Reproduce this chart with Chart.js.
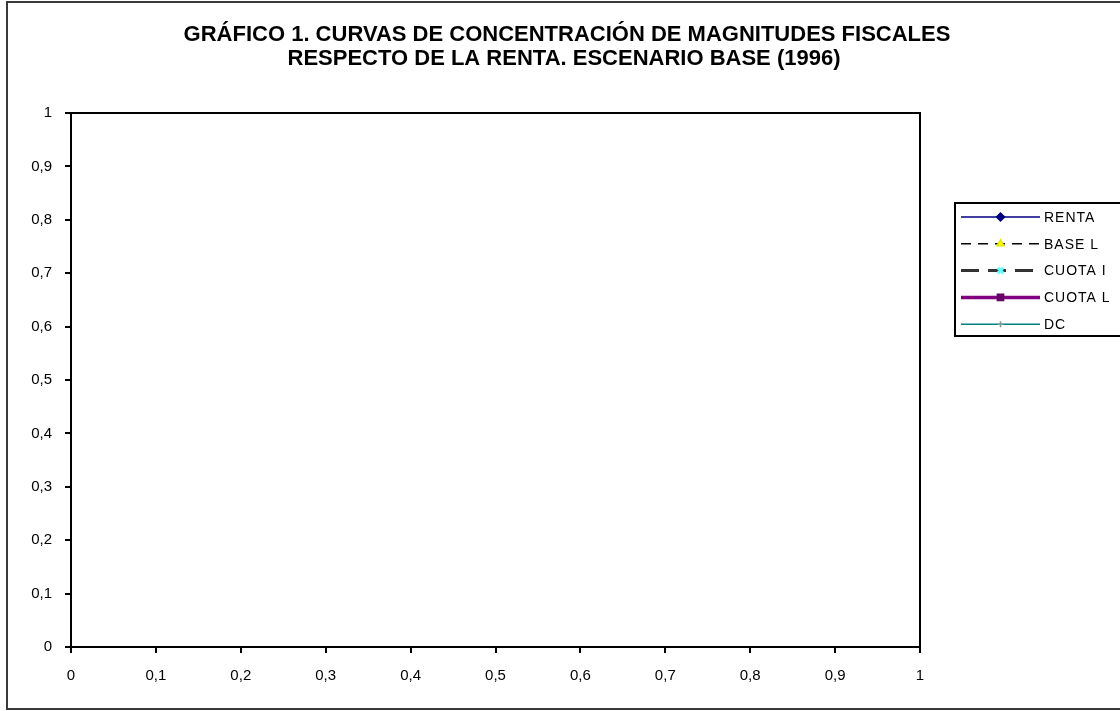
<!DOCTYPE html>
<html>
<head>
<meta charset="utf-8">
<script src="https://cdn.jsdelivr.net/npm/chart.js@4/dist/chart.umd.min.js"></script>
<style>
  html, body { margin: 0; padding: 0; background: #fff; }
  #wrap { position: relative; width: 1120px; height: 711px; }
</style>
</head>
<body>
<div id="wrap"><canvas id="myChart"></canvas></div>
<script>
const titleLines = [
    "GRÁFICO 1. CURVAS DE CONCENTRACIÓN DE MAGNITUDES FISCALES",
    "RESPECTO DE LA RENTA. ESCENARIO BASE (1996)",
];

const seriesNames = ["RENTA", "BASE L", "CUOTA I", "CUOTA L", "DC"];

// no curve is visible inside the plot of the original picture
const renta = [];
const baseL = [];
const cuotaI = [];
const cuotaL = [];
const dc = [];

const axisTicks = [0, 0.1, 0.2, 0.3, 0.4, 0.5, 0.6, 0.7, 0.8, 0.9, 1];

const tickFont = { family: "'Liberation Sans', Arial, sans-serif", size: 15 };

function fmt(v) {
    return String(Math.round(v * 10) / 10).replace(".", ",");
}

function setTicks(axis) {
    axis.ticks = axisTicks.map((v) => ({ value: v }));
}

// outer frame + white background
const frame = {
    id: "frame",
    beforeDraw(chart) {
        const ctx = chart.ctx;
        ctx.save();
        ctx.fillStyle = "#fff";
        ctx.fillRect(0, 0, chart.width, chart.height);
        ctx.strokeStyle = "#3a3a3a";
        ctx.lineWidth = 2;
        ctx.strokeRect(7, 2, chart.width + 10, chart.height - 4);
        ctx.restore();
    },
    afterDraw(chart) {
        const ctx = chart.ctx;
        const a = chart.chartArea;
        ctx.save();
        ctx.strokeStyle = "#000";
        ctx.lineWidth = 2;
        ctx.strokeRect(a.left, a.top, a.right - a.left, a.bottom - a.top);

        // title
        ctx.fillStyle = "#000";
        ctx.textAlign = "center";
        ctx.textBaseline = "middle";
        ctx.font = "bold 22px 'Liberation Sans', Arial, sans-serif";
        ctx.fillText(titleLines[0], 567, 35);
        ctx.fillText(titleLines[1], 564, 59);
        ctx.restore();
    },
};

// legend drawn like the spreadsheet one: line with marker in the middle
const legendBox = {
    id: "legendBox",
    afterDraw(chart) {
        const ctx = chart.ctx;
        const a = chart.chartArea;
        const x0 = a.right + 35;
        const y0 = 203;
        const rowH = 26.8;
        ctx.save();
        ctx.fillStyle = "#fff";
        ctx.fillRect(x0, y0, 200, 133);
        ctx.strokeStyle = "#000";
        ctx.lineWidth = 2;
        ctx.strokeRect(x0, y0, 200, 133);

        chart.data.datasets.forEach((ds, i) => {
            const y = y0 + 14 + i * rowH;
            const x1 = x0 + 6;
            const x2 = x0 + 85;
            ctx.save();
            ctx.strokeStyle = ds.borderColor;
            ctx.lineWidth = ds.borderWidth;
            ctx.setLineDash(ds.borderDash || []);
            ctx.beginPath();
            ctx.moveTo(x1, y);
            ctx.lineTo(x2, y);
            ctx.stroke();
            ctx.setLineDash([]);
            ctx.fillStyle = ds.pointBackgroundColor;
            ctx.strokeStyle = ds.pointBorderColor;
            Chart.helpers.drawPoint(ctx, {
                pointStyle: ds.pointStyle,
                radius: ds.pointRadius,
                borderWidth: ds.pointBorderWidth,
                rotation: 0,
            }, (x1 + x2) / 2, y);
            ctx.restore();

            ctx.fillStyle = "#000";
            ctx.font = "14px 'Liberation Sans', Arial, sans-serif";
            ctx.letterSpacing = "1px";
            ctx.textBaseline = "middle";
            ctx.fillText(ds.label, x2 + 4, y + 1);
        });
        ctx.restore();
    },
};

const config = {
    type: "line",
    data: {
        datasets: [
            {
                label: seriesNames[0],
                data: renta,
                borderColor: "#000080",
                borderWidth: 1.5,
                pointStyle: "rectRot",
                pointRadius: 4,
                pointBorderWidth: 1,
                pointBackgroundColor: "#000080",
                pointBorderColor: "#000080",
            },
            {
                label: seriesNames[1],
                data: baseL,
                borderColor: "#000",
                borderWidth: 1.5,
                borderDash: [10, 7],
                pointStyle: "triangle",
                pointRadius: 4,
                pointBorderWidth: 1,
                pointBackgroundColor: "#ffff00",
                pointBorderColor: "#e6e600",
            },
            {
                label: seriesNames[2],
                data: cuotaI,
                borderColor: "#333",
                borderWidth: 3,
                borderDash: [18, 9],
                pointStyle: "crossRot",
                pointRadius: 4,
                pointBorderWidth: 2.5,
                pointBackgroundColor: "#66ffff",
                pointBorderColor: "#66ffff",
            },
            {
                label: seriesNames[3],
                data: cuotaL,
                borderColor: "#800080",
                borderWidth: 3.5,
                pointStyle: "rect",
                pointRadius: 3,
                pointBorderWidth: 1,
                pointBackgroundColor: "#660066",
                pointBorderColor: "#660066",
            },
            {
                label: seriesNames[4],
                data: dc,
                borderColor: "#008080",
                borderWidth: 1.5,
                pointStyle: "cross",
                pointRadius: 3,
                pointBorderWidth: 1,
                pointBackgroundColor: "#7a9a9a",
                pointBorderColor: "#7a9a9a",
            },
        ],
    },
    options: {
        responsive: false,
        animation: false,
        layout: {
            padding: { left: 10, right: 200, top: 113, bottom: 10 },
        },
        plugins: {
            legend: { display: false },
            title: { display: false },
            tooltip: { enabled: false },
        },
        scales: {
            x: {
                type: "linear",
                min: 0,
                max: 1,
                afterBuildTicks: setTicks,
                afterFit(scale) {
                    scale.height = 54;
                },
                grid: {
                    drawOnChartArea: false,
                    drawTicks: true,
                    tickLength: 6,
                    color: "#000",
                    lineWidth: 2,
                },
                border: { display: false },
                ticks: {
                    color: "#000",
                    font: tickFont,
                    padding: 14,
                    maxRotation: 0,
                    callback: fmt,
                },
            },
            y: {
                type: "linear",
                min: 0,
                max: 1,
                afterBuildTicks: setTicks,
                afterFit(scale) {
                    scale.width = 61;
                },
                grid: {
                    drawOnChartArea: false,
                    drawTicks: true,
                    tickLength: 6,
                    color: "#000",
                    lineWidth: 2,
                },
                border: { display: false },
                ticks: {
                    color: "#000",
                    font: tickFont,
                    padding: 13,
                    callback: fmt,
                },
            },
        },
    },
    plugins: [frame, legendBox],
};

const canvas = document.getElementById("myChart");
canvas.width = 1120;
canvas.height = 711;
new Chart(canvas, config);
</script>
</body>
</html>
